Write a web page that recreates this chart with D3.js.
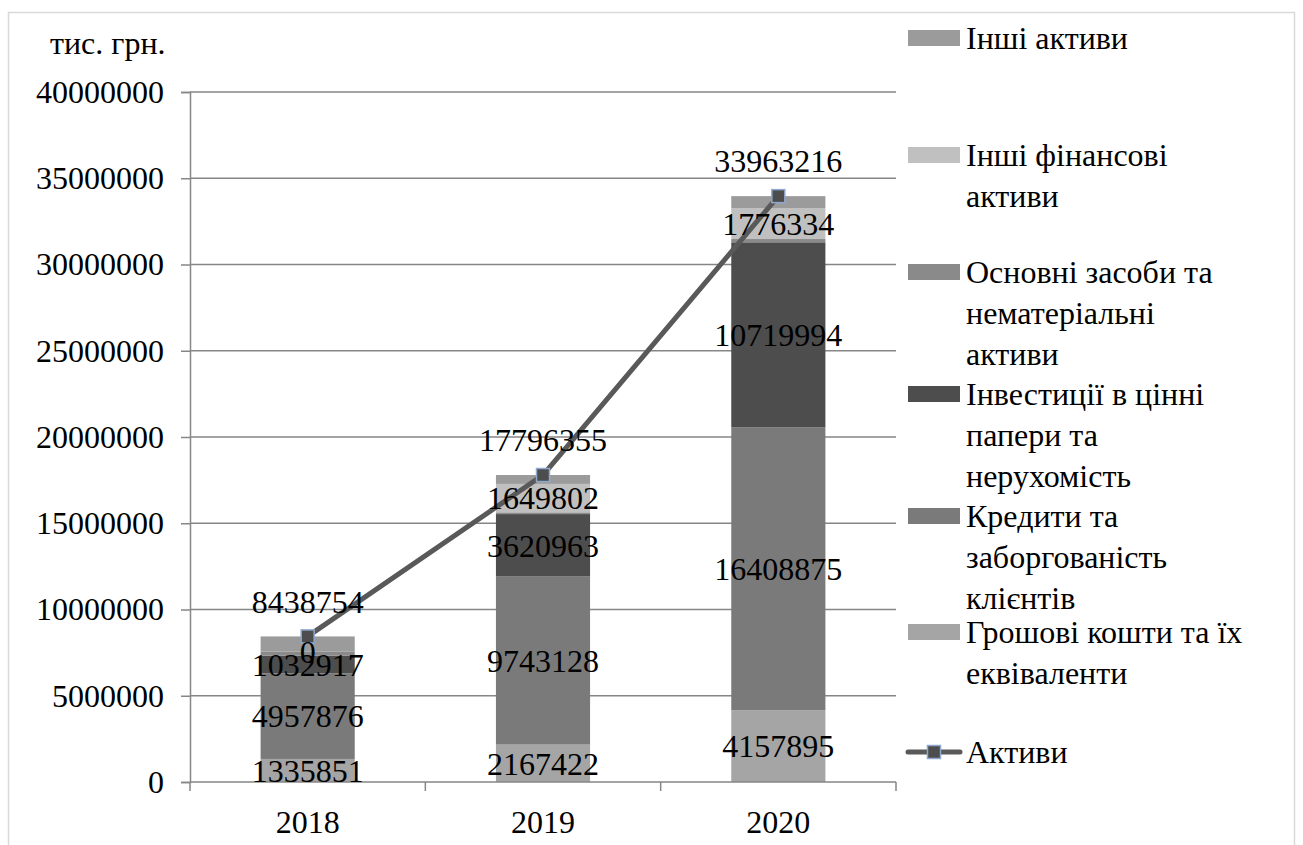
<!DOCTYPE html>
<html><head><meta charset="utf-8">
<script src="https://cdn.jsdelivr.net/npm/d3@7"></script>
<style>
body{margin:0;background:#fff}
svg{display:block}
svg text{font-family:"Liberation Serif","Times New Roman",Times,"DejaVu Serif","Noto Serif",serif !important;fill:#000}
</style>
</head><body>
<svg id="chart" width="1303" height="845"></svg>
<script>
// ---- data ----
const years = ["2018", "2019", "2020"];
const cash = [1335851, 2167422, 4157895];            // Грошові кошти та їх еквіваленти
const loans = [4957876, 9743128, 16408875];          // Кредити та заборгованість клієнтів
const investments = [1032917, 3620963, 10719994];    // Інвестиції в цінні папери та нерухомість
const fixedAssets = [226000, 100000, 190000];        // Основні засоби та нематеріальні активи (estimated, unlabelled)
const otherFinancial = [0, 1649802, 1776334];        // Інші фінансові активи
const otherAssets = [886110, 515040, 710118];        // Інші активи (estimated, unlabelled)
const totalAssets = [8438754, 17796355, 33963216];   // Активи
const yTicks = [0, 5000000, 10000000, 15000000, 20000000, 25000000, 30000000, 35000000, 40000000];
const unitLabel = "тис. грн.";
const seriesNames = [
  "Грошові кошти та їх еквіваленти",
  "Кредити та заборгованість клієнтів",
  "Інвестиції в цінні папери та нерухомість",
  "Основні засоби та нематеріальні активи",
  "Інші фінансові активи",
  "Інші активи"
];
const lineName = "Активи";

// legend text lines (wrapped as in the original)
const legendWrap = {
  "Інші активи": ["Інші активи"],
  "Інші фінансові активи": ["Інші фінансові", "активи"],
  "Основні засоби та нематеріальні активи": ["Основні засоби та", "нематеріальні", "активи"],
  "Інвестиції в цінні папери та нерухомість": ["Інвестиції в цінні", "папери та", "нерухомість"],
  "Кредити та заборгованість клієнтів": ["Кредити та", "заборгованість", "клієнтів"],
  "Грошові кошти та їх еквіваленти": ["Грошові кошти та їх", "еквіваленти"],
  "Активи": ["Активи"]
};

// ---- styles ----
const FONT = '"Liberation Serif","Times New Roman",Times,"DejaVu Serif","Noto Serif",serif';
const colors = ["#a5a5a5", "#7a7a7a", "#4d4d4d", "#8a8a8a", "#c0c0c0", "#9b9b9b"];
const showLabels = [true, true, true, false, true, false];
const values = [cash, loans, investments, fixedAssets, otherFinancial, otherAssets];

const svg = d3.select("#chart").attr("font-family", FONT);
const plot = {left: 190, right: 896, top: 92, bottom: 782};
const axisColor = "#868686";
const FS = 32;

// outer border
svg.append("rect").attr("x", 8.5).attr("y", 12.5).attr("width", 1286).attr("height", 860)
  .attr("fill", "none").attr("stroke", "#d9d9d9").attr("stroke-width", 1.5);

const x = d3.scaleBand().domain(years).range([plot.left, plot.right])
  .paddingInner(0.6).paddingOuter(0.3);
const y = d3.scaleLinear().domain([0, 40000000]).range([plot.bottom, plot.top]);

// gridlines
svg.append("g").selectAll("line").data(yTicks.filter(d => d > 0)).join("line")
  .attr("x1", plot.left).attr("x2", plot.right)
  .attr("y1", d => y(d)).attr("y2", d => y(d))
  .attr("stroke", axisColor).attr("stroke-width", 1.5);

// y axis
const yAxis = svg.append("g").attr("transform", `translate(${plot.left},0)`)
  .call(d3.axisLeft(y).tickValues(yTicks).tickSize(9).tickPadding(17).tickFormat(d3.format("d")));
yAxis.attr("font-family", FONT);
yAxis.select(".domain").attr("stroke", axisColor).attr("stroke-width", 1.5);
yAxis.selectAll(".tick line").attr("stroke", axisColor).attr("stroke-width", 1.5);
yAxis.selectAll(".tick text").attr("font-size", FS).attr("font-family", FONT).attr("fill", "#000");

// stacked data
const stackInput = years.map((yr, i) => {
  const o = {year: yr};
  seriesNames.forEach((n, s) => o[n] = values[s][i]);
  return o;
});
const stacked = d3.stack().keys(seriesNames)(stackInput);

// bars
const barG = svg.append("g");
stacked.forEach((layer, s) => {
  barG.append("g").attr("fill", colors[s]).selectAll("rect").data(layer).join("rect")
    .attr("x", d => x(d.data.year))
    .attr("width", x.bandwidth())
    .attr("y", d => y(d[1]))
    .attr("height", d => Math.max(0, y(d[0]) - y(d[1])));
});

// x axis
const step = x.step();
const boundaries = d3.range(years.length + 1).map(i => plot.left + i * step);
svg.append("line").attr("x1", plot.left).attr("x2", plot.right)
  .attr("y1", plot.bottom).attr("y2", plot.bottom)
  .attr("stroke", axisColor).attr("stroke-width", 1.5);
svg.append("g").selectAll("line").data(boundaries).join("line")
  .attr("x1", d => d).attr("x2", d => d)
  .attr("y1", plot.bottom).attr("y2", plot.bottom + 9)
  .attr("stroke", axisColor).attr("stroke-width", 1.5);
svg.append("g").selectAll("text").data(years).join("text")
  .attr("x", d => x(d) + x.bandwidth() / 2).attr("y", 833)
  .attr("text-anchor", "middle").attr("font-size", FS).text(d => d);

// total line
const cx = d => x(d) + x.bandwidth() / 2;
const line = d3.line().x((d, i) => cx(years[i])).y(d => y(d));
svg.append("path").datum(totalAssets).attr("d", line)
  .attr("fill", "none").attr("stroke", "#595959").attr("stroke-width", 5)
  .attr("stroke-linejoin", "round");
svg.append("g").selectAll("rect").data(totalAssets).join("rect")
  .attr("x", (d, i) => cx(years[i]) - 6.5).attr("y", d => y(d) - 6.5)
  .attr("width", 13).attr("height", 13)
  .attr("fill", "#4d4d4d").attr("stroke", "#8fa8cf").attr("stroke-width", 1.5);

// segment labels
const labelG = svg.append("g");
stacked.forEach((layer, s) => {
  if (!showLabels[s]) return;
  labelG.append("g").selectAll("text").data(layer).join("text")
    .attr("x", d => cx(d.data.year))
    .attr("y", d => (y(d[0]) + y(d[1])) / 2)
    .attr("dy", "0.35em")
    .attr("text-anchor", "middle").attr("font-size", FS)
    .text((d, i) => values[s][i]);
});
// total labels
labelG.append("g").selectAll("text").data(totalAssets).join("text")
  .attr("x", (d, i) => cx(years[i])).attr("y", d => y(d) - 35)
  .attr("dy", "0.35em").attr("text-anchor", "middle").attr("font-size", FS)
  .text(d => d);

// unit label
svg.append("text").attr("x", 50).attr("y", 54).attr("font-size", FS).text(unitLabel);

// legend
const legendItems = [...seriesNames].reverse().map((n, i) => ({name: n, color: colors[seriesNames.length - 1 - i], type: "bar"}));
legendItems.push({name: lineName, type: "line"});
const legendY = [38, 155, 272, 394, 516, 632, 752];
const LFS = 32, LH = 41;
const lg = svg.append("g");
legendItems.forEach((it, i) => {
  const cy = legendY[i];
  if (it.type === "bar") {
    lg.append("rect").attr("x", 908).attr("y", cy - 8).attr("width", 52).attr("height", 16).attr("fill", it.color);
  } else {
    lg.append("line").attr("x1", 908).attr("x2", 960).attr("y1", cy).attr("y2", cy)
      .attr("stroke", "#595959").attr("stroke-width", 5).attr("stroke-linecap", "round");
    lg.append("rect").attr("x", 934 - 6.5).attr("y", cy - 6.5).attr("width", 13).attr("height", 13)
      .attr("fill", "#4d4d4d").attr("stroke", "#8fa8cf").attr("stroke-width", 1.5);
  }
  const t = lg.append("text").attr("x", 966).attr("y", cy).attr("font-size", LFS);
  legendWrap[it.name].forEach((ln, k) => {
    t.append("tspan").attr("x", 966).attr("y", cy + k * LH).attr("dy", "0.35em").text(ln);
  });
});
</script>
</body></html>
